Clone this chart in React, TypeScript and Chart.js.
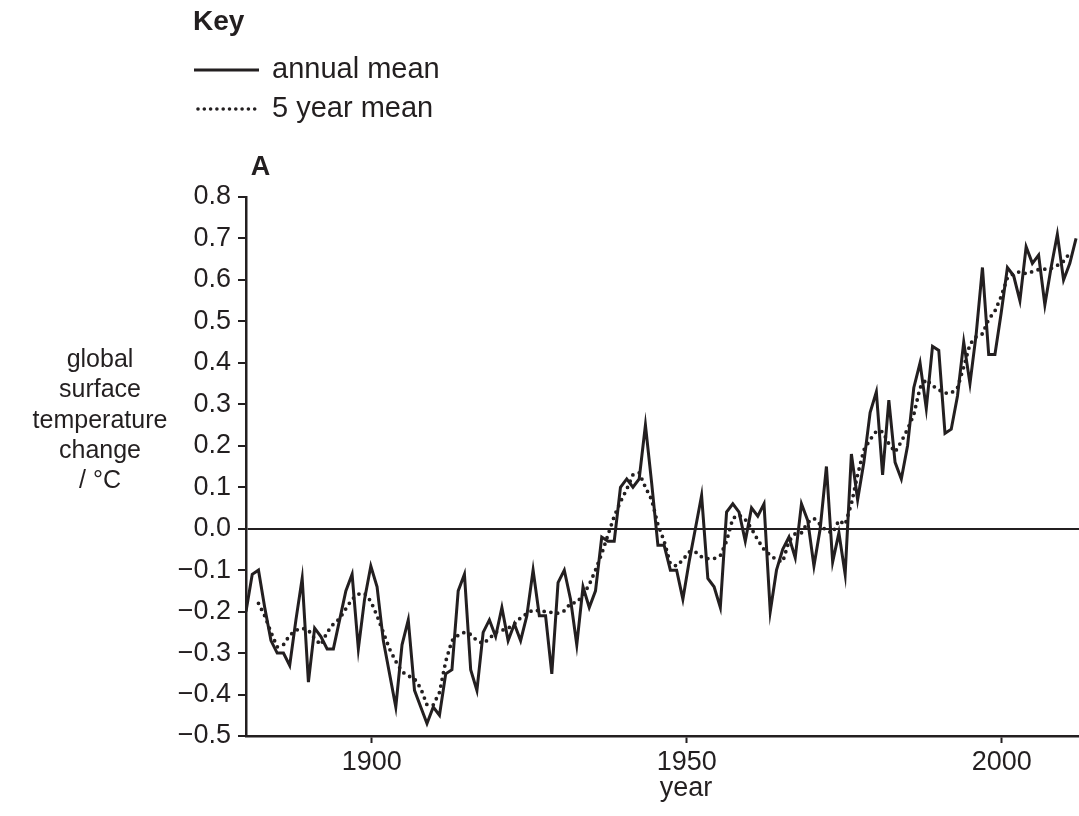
import React, { useEffect, useRef } from "react";
import { Chart, registerables } from "chart.js";

Chart.register(...registerables);

const INK = "#231f20";
const FONT = '"Liberation Sans", Arial, Helvetica, sans-serif';

// ---- data ----
const annualYears = [
  1880, 1881, 1882, 1883, 1884, 1885, 1886, 1887, 1888, 1889,
  1890, 1891, 1892, 1893, 1894, 1895, 1896, 1897, 1898, 1899,
  1900, 1901, 1902, 1903, 1904, 1905, 1906, 1907, 1908, 1909,
  1910, 1911, 1912, 1913, 1914, 1915, 1916, 1917, 1918, 1919,
  1920, 1921, 1922, 1923, 1924, 1925, 1926, 1927, 1928, 1929,
  1930, 1931, 1932, 1933, 1934, 1935, 1936, 1937, 1938, 1939,
  1940, 1941, 1942, 1943, 1944, 1945, 1946, 1947, 1948, 1949,
  1950, 1951, 1952, 1953, 1954, 1955, 1956, 1957, 1958, 1959,
  1960, 1961, 1962, 1963, 1964, 1965, 1966, 1967, 1968, 1969,
  1970, 1971, 1972, 1973, 1974, 1975, 1976, 1977, 1978, 1979,
  1980, 1981, 1982, 1983, 1984, 1985, 1986, 1987, 1988, 1989,
  1990, 1991, 1992, 1993, 1994, 1995, 1996, 1997, 1998, 1999,
  2000, 2001, 2002, 2003, 2004, 2005, 2006, 2007, 2008, 2009,
  2010, 2011, 2012, 2013,
];

const annualMean = [
  -0.20, -0.11, -0.10, -0.19, -0.27, -0.30, -0.30, -0.33, -0.22, -0.12,
  -0.37, -0.24, -0.26, -0.29, -0.29, -0.22, -0.15, -0.11, -0.29, -0.17,
  -0.09, -0.14, -0.27, -0.35, -0.43, -0.28, -0.22, -0.39, -0.43, -0.47,
  -0.43, -0.45, -0.35, -0.34, -0.15, -0.11, -0.34, -0.39, -0.25, -0.22,
  -0.26, -0.19, -0.27, -0.23, -0.27, -0.21, -0.10, -0.21, -0.21, -0.35,
  -0.13, -0.10, -0.17, -0.28, -0.14, -0.19, -0.15, -0.02, -0.03, -0.03,
  0.10, 0.12, 0.10, 0.12, 0.25, 0.11, -0.04, -0.04, -0.10, -0.10,
  -0.17, -0.08, 0.00, 0.08, -0.12, -0.14, -0.19, 0.04, 0.06, 0.04,
  -0.03, 0.05, 0.03, 0.06, -0.20, -0.10, -0.05, -0.02, -0.07, 0.06,
  0.02, -0.09, 0.00, 0.15, -0.08, -0.01, -0.11, 0.18, 0.07, 0.16,
  0.28, 0.33, 0.13, 0.31, 0.16, 0.12, 0.20, 0.34, 0.40, 0.29,
  0.44, 0.43, 0.23, 0.24, 0.32, 0.45, 0.35, 0.47, 0.63, 0.42,
  0.42, 0.52, 0.63, 0.61, 0.55, 0.68, 0.64, 0.66, 0.54, 0.63,
  0.71, 0.60, 0.64, 0.70,
];

const fiveYearYears = [
  1882, 1883, 1884, 1885, 1886, 1887, 1888, 1889,
  1890, 1891, 1892, 1893, 1894, 1895, 1896, 1897, 1898, 1899,
  1900, 1901, 1902, 1903, 1904, 1905, 1906, 1907, 1908, 1909,
  1910, 1911, 1912, 1913, 1914, 1915, 1916, 1917, 1918, 1919,
  1920, 1921, 1922, 1923, 1924, 1925, 1926, 1927, 1928, 1929,
  1930, 1931, 1932, 1933, 1934, 1935, 1936, 1937, 1938, 1939,
  1940, 1941, 1942, 1943, 1944, 1945, 1946, 1947, 1948, 1949,
  1950, 1951, 1952, 1953, 1954, 1955, 1956, 1957, 1958, 1959,
  1960, 1961, 1962, 1963, 1964, 1965, 1966, 1967, 1968, 1969,
  1970, 1971, 1972, 1973, 1974, 1975, 1976, 1977, 1978, 1979,
  1980, 1981, 1982, 1983, 1984, 1985, 1986, 1987, 1988, 1989,
  1990, 1991, 1992, 1993, 1994, 1995, 1996, 1997, 1998, 1999,
  2000, 2001, 2002, 2003, 2004, 2005, 2006, 2007, 2008, 2009,
  2010, 2011, 2012,
];

const fiveYearMean = [
  -0.18, -0.21, -0.25, -0.285, -0.28, -0.257, -0.245, -0.24,
  -0.245, -0.265, -0.28, -0.25, -0.23, -0.217, -0.193, -0.17, -0.158, -0.156,
  -0.175, -0.21, -0.25, -0.29, -0.32, -0.345, -0.355, -0.362, -0.385, -0.425,
  -0.425, -0.395, -0.32, -0.27, -0.257, -0.25, -0.255, -0.27, -0.277, -0.265,
  -0.25, -0.245, -0.24, -0.23, -0.215, -0.205, -0.196, -0.198, -0.2, -0.202,
  -0.204, -0.198, -0.18, -0.178, -0.16, -0.135, -0.10, -0.06, -0.015, 0.03,
  0.065, 0.095, 0.13, 0.135, 0.10, 0.07, 0.01, -0.03, -0.085, -0.09,
  -0.075, -0.056, -0.056, -0.068, -0.072, -0.072, -0.065, -0.03, 0.025, 0.033,
  0.022, 0.0, -0.027, -0.05, -0.064, -0.075, -0.08, -0.03, -0.012, -0.01,
  0.015, 0.025, 0.01, -0.005, -0.01, 0.02, 0.01, 0.06, 0.13, 0.19,
  0.215, 0.235, 0.234, 0.205, 0.185, 0.21, 0.24, 0.275, 0.34, 0.36,
  0.345, 0.335, 0.327, 0.327, 0.34, 0.39, 0.445, 0.463, 0.47, 0.505,
  0.525, 0.56, 0.605, 0.615, 0.62, 0.615, 0.62, 0.625, 0.626, 0.628,
  0.635, 0.645, 0.665,
];

const xTickYears = [1900, 1950, 2000];
const yTickValues = [-0.5, -0.4, -0.3, -0.2, -0.1, 0.0, 0.1, 0.2, 0.3, 0.4, 0.5, 0.6, 0.7, 0.8];

const keyTitle = "Key";
const keyLabels = ["annual mean", "5 year mean"];
const panelLabel = "A";
const yTitleLines = ["global", "surface", "temperature", "change", "/ °C"];
const xTitle = "year";

const isZero = (v: number) => Math.abs(v) < 1e-9;
const fmtY = (v: number) => (v < -1e-9 ? "\u2212" : "") + Math.abs(v).toFixed(1);

const annotationPlugin = {
  id: "figureText",
  afterDraw(chart: any) {
    const ctx = chart.ctx as CanvasRenderingContext2D;
    ctx.save();
    ctx.fillStyle = INK;
    ctx.strokeStyle = INK;
    ctx.textBaseline = "alphabetic";

    // Key block
    ctx.textAlign = "left";
    ctx.font = `bold 28px ${FONT}`;
    ctx.fillText(keyTitle, 193, 30);
    ctx.font = `29px ${FONT}`;
    ctx.fillText(keyLabels[0], 272, 78);
    ctx.fillText(keyLabels[1], 272, 117);

    ctx.lineWidth = 3;
    ctx.lineCap = "butt";
    ctx.beginPath();
    ctx.moveTo(194, 70);
    ctx.lineTo(259, 70);
    ctx.stroke();

    ctx.lineWidth = 3.6;
    ctx.lineCap = "round";
    ctx.setLineDash([0, 6.3]);
    ctx.beginPath();
    ctx.moveTo(198, 109);
    ctx.lineTo(260, 109);
    ctx.stroke();
    ctx.setLineDash([]);

    // panel letter
    ctx.textAlign = "center";
    ctx.font = `bold 27px ${FONT}`;
    ctx.fillText(panelLabel, 260.5, 175);

    // y-axis title (stacked lines)
    ctx.font = `25px ${FONT}`;
    yTitleLines.forEach((t, i) => ctx.fillText(t, 100, 367 + i * 30.3));

    // x-axis title
    ctx.font = `27px ${FONT}`;
    ctx.fillText(xTitle, 686, 796);

    ctx.restore();
  },
};

export default function App() {
  const canvasRef = useRef<HTMLCanvasElement | null>(null);

  useEffect(() => {
    const canvas = canvasRef.current;
    if (!canvas) return;

    const chart = new Chart(canvas, {
      type: "line",
      data: {
        datasets: [
          {
            label: keyLabels[1],
            data: fiveYearYears.map((x, i) => ({ x, y: fiveYearMean[i] })),
            borderColor: INK,
            borderWidth: 3.8,
            borderDash: [0, 6.8],
            borderCapStyle: "round",
            borderJoinStyle: "round",
            pointRadius: 0,
            fill: false,
            tension: 0,
            xAxisID: "x",
            yAxisID: "y",
          },
          {
            label: keyLabels[0],
            data: annualYears.map((x, i) => ({ x, y: annualMean[i] })),
            borderColor: INK,
            borderWidth: 3,
            borderJoinStyle: "miter",
            pointRadius: 0,
            fill: false,
            tension: 0,
            xAxisID: "x",
            yAxisID: "y",
          },
        ],
      },
      options: {
        responsive: false,
        animation: false,
        events: [],
        layout: { padding: { top: 197, left: 0, right: 0, bottom: 0 } },
        plugins: {
          legend: { display: false },
          tooltip: { enabled: false },
          title: { display: false },
        },
        scales: {
          x: {
            type: "linear",
            display: false,
            min: 1880,
            max: 2013.47,
          },
          xt: {
            type: "linear",
            position: "bottom",
            min: 1880.05,
            max: 2012.27,
            afterBuildTicks: (s: any) => {
              s.ticks = xTickYears.map((v) => ({ value: v }));
            },
            afterFit: (s: any) => {
              s.height = 80;
            },
            grid: {
              drawOnChartArea: false,
              drawTicks: true,
              tickLength: 7,
              tickWidth: 2,
              tickColor: INK,
            },
            border: { display: true, color: INK, width: 2.5 },
            ticks: {
              color: INK,
              font: { size: 27, family: FONT },
              padding: 3,
              maxRotation: 0,
              autoSkip: false,
              callback: (v: any) => String(v),
            },
          },
          y: {
            type: "linear",
            min: -0.5,
            max: 0.8,
            afterBuildTicks: (s: any) => {
              s.ticks = yTickValues.map((v) => ({ value: v }));
            },
            afterFit: (s: any) => {
              s.width = 246;
            },
            grid: {
              color: (c: any) => (c.tick && isZero(c.tick.value) ? INK : "rgba(0,0,0,0)"),
              lineWidth: 2,
              drawTicks: true,
              tickLength: 8,
              tickWidth: 2,
              tickColor: INK,
            },
            border: { display: true, color: INK, width: 2.5 },
            ticks: {
              color: INK,
              font: { size: 27, family: FONT },
              padding: 7,
              autoSkip: false,
              callback: (v: any) => fmtY(Number(v)),
            },
          },
        },
      } as any,
      plugins: [annotationPlugin],
    });

    return () => chart.destroy();
  }, []);

  return (
    <div style={{ position: "absolute", left: 0, top: 0, width: 1079, height: 816, background: "#fff" }}>
      <canvas ref={canvasRef} width={1079} height={816} style={{ display: "block" }} />
    </div>
  );
}
